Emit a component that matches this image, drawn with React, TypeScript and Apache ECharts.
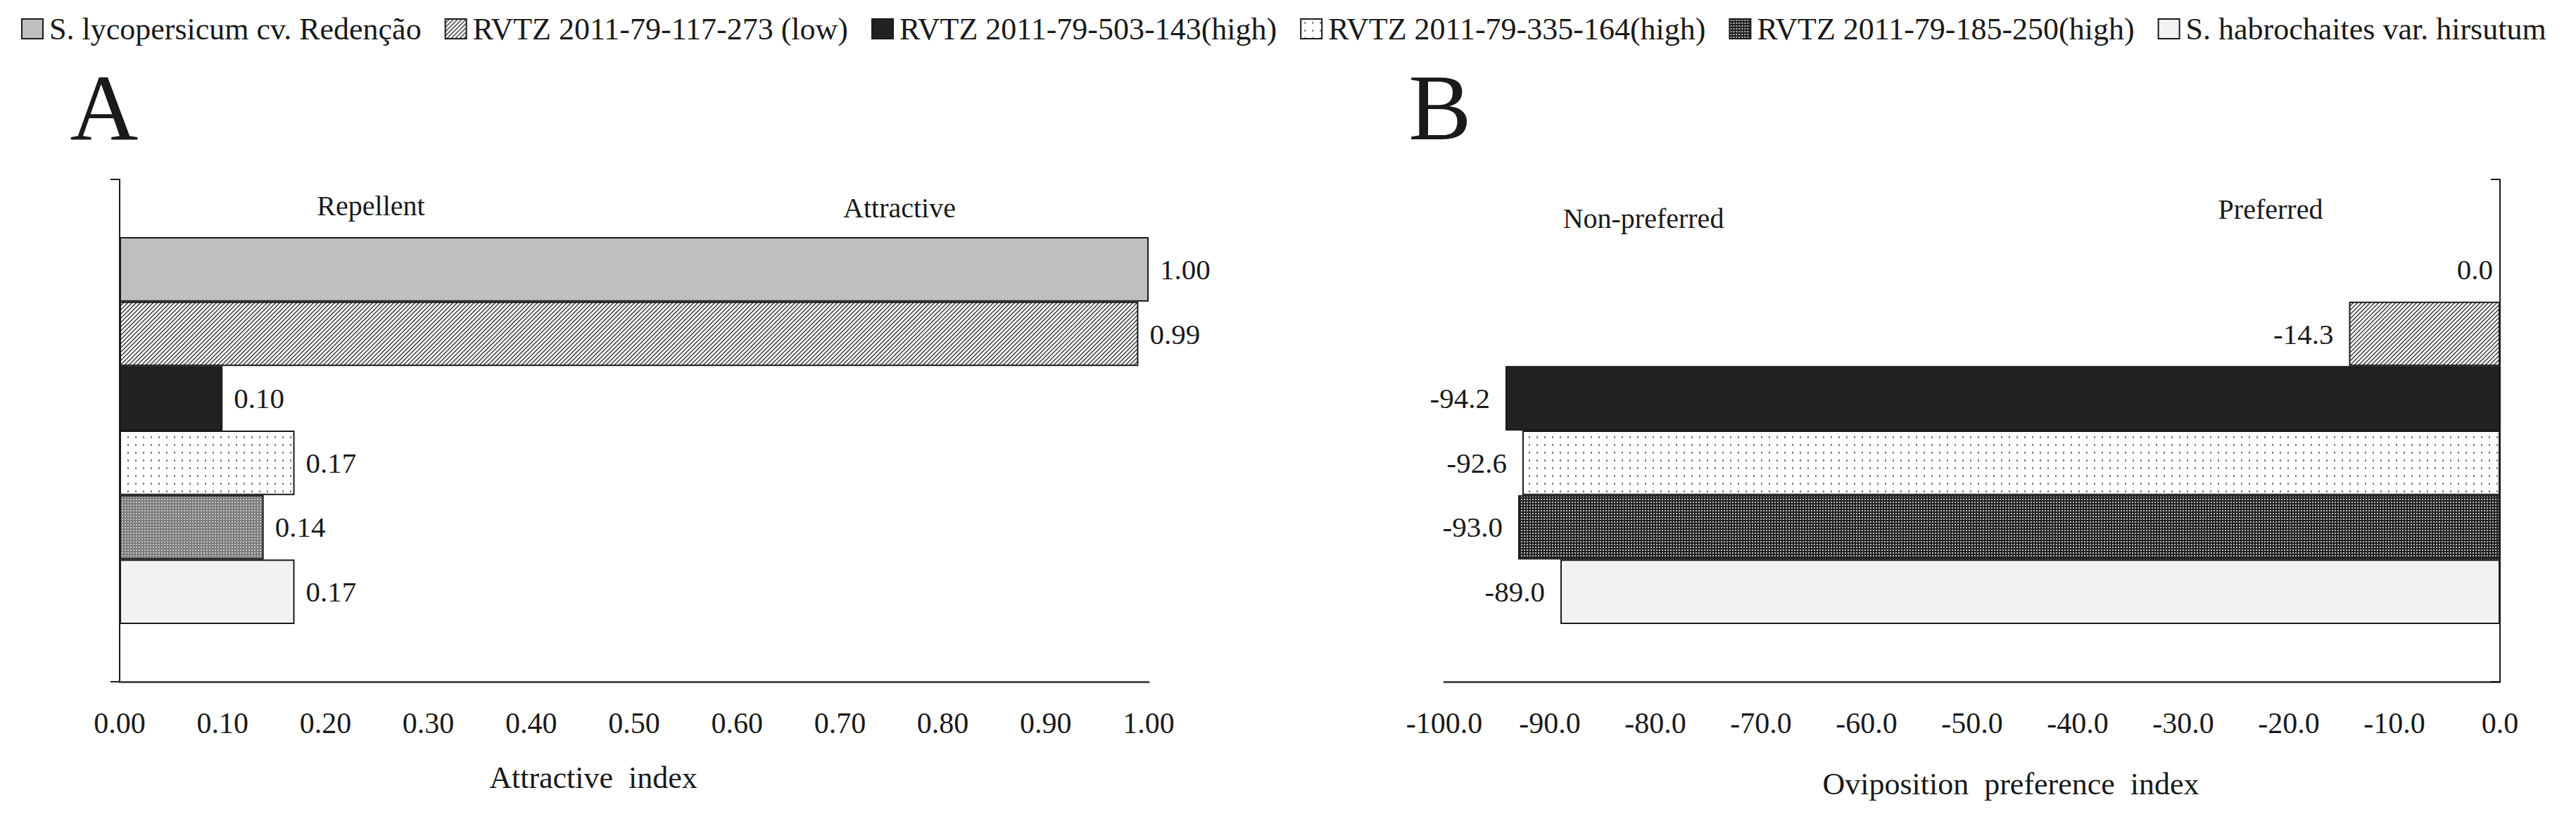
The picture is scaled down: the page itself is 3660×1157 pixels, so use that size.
import React, { useEffect, useRef } from "react";
import * as echarts from "echarts";

// ---------- data ----------
const seriesNames = [
  "S. lycopersicum cv. Redenção",
  "RVTZ 2011-79-117-273 (low)",
  "RVTZ 2011-79-503-143(high)",
  "RVTZ 2011-79-335-164(high)",
  "RVTZ 2011-79-185-250(high)",
  "S. habrochaites var. hirsutum",
];
const attractiveIndex = [1.0, 0.99, 0.1, 0.17, 0.14, 0.17];
const ovipositionIndex = [0.0, -14.3, -94.2, -92.6, -93.0, -89.0];
const attractiveAxis = [0, 1, 0.1]; // min, max, interval
const ovipositionAxis = [-100, 0, 10]; // min, max, interval
const panelLetters = ["A", "B"];
const sideLabelsA = ["Repellent", "Attractive"];
const sideLabelsB = ["Non-preferred", "Preferred"];
const axisTitles = ["Attractive  index", "Oviposition  preference  index"];

const FONT = "'Liberation Serif', 'Times New Roman', serif";
const INK = "#1a1a1a";

function tile(kind: string) {
  const c = document.createElement("canvas");
  const ctx = c.getContext("2d") as CanvasRenderingContext2D;
  let w = 4;
  let h = 4;
  if (kind === "hatch") {
    w = 6; h = 6;
    c.width = w; c.height = h;
    ctx.fillStyle = "#ffffff";
    ctx.fillRect(0, 0, w, h);
    ctx.strokeStyle = "#3a3a3a";
    ctx.lineWidth = 1.5;
    ctx.beginPath();
    ctx.moveTo(-1, h + 1); ctx.lineTo(w + 1, -1);
    ctx.moveTo(-1, 1); ctx.lineTo(1, -1);
    ctx.moveTo(w - 1, h + 1); ctx.lineTo(w + 1, h - 1);
    ctx.stroke();
  } else if (kind === "dots") {
    w = 11; h = 11;
    c.width = w; c.height = h;
    ctx.fillStyle = "#ffffff";
    ctx.fillRect(0, 0, w, h);
    ctx.fillStyle = "#808080";
    ctx.fillRect(5, 4, 2, 3);
  } else if (kind === "denseLight") {
    w = 4; h = 4;
    c.width = w; c.height = h;
    ctx.fillStyle = "#7c7c7c";
    ctx.fillRect(0, 0, w, h);
    ctx.fillStyle = "#c4c4c4";
    ctx.fillRect(1, 1, 2, 2);
  } else {
    w = 4; h = 4;
    c.width = w; c.height = h;
    ctx.fillStyle = "#202020";
    ctx.fillRect(0, 0, w, h);
    ctx.fillStyle = "#bdbdbd";
    ctx.fillRect(1, 1, 2, 2);
  }
  return { image: c, repeat: "repeat", imageWidth: w, imageHeight: h } as any;
}

export default function App() {
  const ref = useRef<HTMLDivElement>(null);

  useEffect(() => {
    if (!ref.current) return;
    const chart = echarts.init(ref.current, undefined, { renderer: "svg" });

    const hatch = tile("hatch");
    const dots = tile("dots");
    const fillsA = ["#bfbfbf", hatch, "#222222", dots, tile("denseLight"), "#f2f2f2"];
    const fillsB = ["#bfbfbf", hatch, "#222222", dots, tile("denseDark"), "#f2f2f2"];

    const labelBase = { show: true, fontSize: 41, fontFamily: FONT, color: INK };

    const seriesB = seriesNames.map((name, i) => ({
      type: "bar",
      name,
      xAxisIndex: 1,
      yAxisIndex: 1,
      data: [ovipositionIndex[i]],
      barGap: "0%",
      barCategoryGap: "23%",
      itemStyle: { color: fillsB[i], borderColor: INK, borderWidth: 2 },
      label: {
        ...labelBase,
        position: "left",
        distance: ovipositionIndex[i] === 0 ? 9 : 22,
        formatter: (p: any) => Number(p.value).toFixed(1),
      },
    }));
    const seriesA = seriesNames.map((name, i) => ({
      type: "bar",
      name,
      xAxisIndex: 0,
      yAxisIndex: 0,
      data: [attractiveIndex[i]],
      barGap: "0%",
      barCategoryGap: "23%",
      itemStyle: { color: fillsA[i], borderColor: INK, borderWidth: 2 },
      label: {
        ...labelBase,
        position: "right",
        distance: 16,
        formatter: (p: any) => Number(p.value).toFixed(2),
      },
    }));

    const valueAxis = (grid: number, range: number[], digits: number) => ({
      gridIndex: grid,
      type: "value",
      min: range[0],
      max: range[1],
      interval: range[2],
      axisLine: { show: true, onZero: false, lineStyle: { color: "#4d4d4d", width: 3 } },
      axisTick: { show: false },
      splitLine: { show: false },
      axisLabel: {
        fontSize: 42,
        fontFamily: FONT,
        color: INK,
        margin: 38,
        formatter: (v: number) => v.toFixed(digits),
      },
    });

    const catAxis = (grid: number, right: boolean) => ({
      gridIndex: grid,
      type: "category",
      data: ["index"],
      position: right ? "right" : "left",
      axisLine: { show: true, lineStyle: { color: INK, width: 2 } },
      axisTick: { show: true, inside: right, length: 13, lineStyle: { color: INK, width: 2 } },
      axisLabel: { show: false },
      splitLine: { show: false },
    });

    const txt = (text: string, x: number, y: number, size: number) => ({
      type: "text",
      x,
      y,
      style: {
        text,
        fill: INK,
        font: `${size}px ${FONT}`,
        textAlign: "center",
        textVerticalAlign: "middle",
      },
      silent: true,
    });

    chart.setOption({
      animation: false,
      backgroundColor: "#ffffff",
      legend: {
        data: seriesNames,
        left: 30,
        top: 19,
        padding: 0,
        itemGap: 33,
        icon: "rect",
        itemWidth: 30,
        itemHeight: 28,
        textStyle: { fontSize: 44, fontFamily: FONT, color: INK, lineHeight: 44, padding: [0, 0, 0, 4] },
      },
      grid: [
        { left: 170, top: 255, width: 1462, height: 714, containLabel: false },
        { left: 2052, top: 255, width: 1500, height: 714, containLabel: false },
      ],
      xAxis: [valueAxis(0, attractiveAxis, 2), valueAxis(1, ovipositionAxis, 1)],
      yAxis: [catAxis(0, false), catAxis(1, true)],
      series: [...seriesB, ...seriesA],
      graphic: [
        txt(panelLetters[0], 148, 153, 134),
        txt(panelLetters[1], 2046, 153, 134),
        txt(sideLabelsA[0], 527, 292, 40),
        txt(sideLabelsA[1], 1278, 295, 40),
        txt(sideLabelsB[0], 2335, 310, 40),
        txt(sideLabelsB[1], 3226, 297, 40),
        txt(axisTitles[0], 843, 1105, 44),
        txt(axisTitles[1], 2857, 1114, 44),
      ],
    });

    return () => chart.dispose();
  }, []);

  return (
    <div
      ref={ref}
      style={{ position: "fixed", left: 0, top: 0, width: 3660, height: 1157, background: "#fff" }}
    />
  );
}
